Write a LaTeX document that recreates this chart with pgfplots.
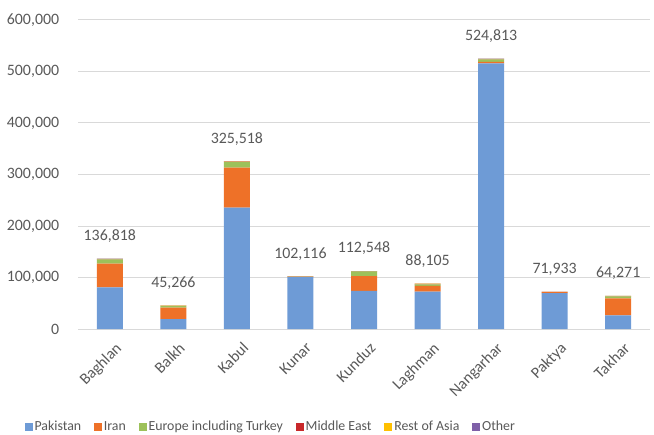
\documentclass[border=0pt]{standalone}
\usepackage{fontspec}
\setmainfont{Carlito}
\usepackage{pgfplots}
\pgfplotsset{compat=1.18}
\definecolor{cPak}{HTML}{6E9BD6}
\definecolor{cIran}{HTML}{EE7128}
\definecolor{cEur}{HTML}{9DC15A}
\definecolor{cME}{HTML}{C8282A}
\definecolor{cRA}{HTML}{FFC000}
\definecolor{cOth}{HTML}{7F60A8}
\definecolor{txt}{HTML}{595959}
\definecolor{gridc}{HTML}{D9D9D9}
\begin{document}
\fontsize{11.9}{14}\selectfont
\begin{tikzpicture}
\begin{axis}[
  ybar stacked,
  scale only axis,
  width=429pt, height=231.75pt,
  bar width=19.5pt,
  xmin=-0.5, xmax=8.5,
  ymin=0, ymax=600000,
  ytick={0,100000,200000,300000,400000,500000,600000},
  yticklabels={0,{100,000},{200,000},{300,000},{400,000},{500,000},{600,000}},
  xtick={0,...,8},
  xticklabels={Baghlan,Balkh,Kabul,Kunar,Kunduz,Laghman,Nangarhar,Paktya,Takhar},
  x tick label style={rotate=45, anchor=north east, xshift=0pt, yshift=-5pt},
  scaled y ticks=false,
  ymajorgrids, xmajorgrids=false,
  grid style={draw=gridc, line width=0.75pt},
  axis x line*=bottom,
  axis y line*=left,
  x axis line style={draw=gridc, line width=0.75pt, -},
  y axis line style={draw=none},
  tick style={draw=none},
  ticklabel style={font=\fontsize{11.9}{14}\selectfont, text=txt},
  yticklabel style={xshift=-10pt},
  legend style={at={(0.337,-0.317)}, anchor=center, draw=none, legend columns=-1,
    font=\fontsize{10.4}{12}\selectfont, text=txt,
    nodes={inner sep=1.5pt},
    /tikz/every even column/.append style={column sep=8pt}},
  legend image code/.code={\fill[#1] (0pt,-3pt) rectangle (6pt,3pt);},
  every axis plot/.append style={draw=none},
]
\addplot[fill=cPak] coordinates {(0,81000) (1,19400) (2,235500) (3,100500) (4,73800) (5,72400) (6,516000) (7,69900) (8,26600)};
\addlegendentry{Pakistan}
\addplot[fill=cIran] coordinates {(0,45800) (1,22000) (2,77700) (3,900) (4,29100) (5,11100) (6,2500) (7,1500) (8,33000)};
\addlegendentry{Iran}
\addplot[fill=cEur] coordinates {(0,8500) (1,3500) (2,11100) (3,400) (4,9200) (5,3000) (6,5000) (7,300) (8,3900)};
\addlegendentry{Europe including Turkey}
\addplot[fill=cME] coordinates {(0,600) (1,200) (2,600) (3,150) (4,200) (5,900) (6,700) (7,150) (8,400)};
\addlegendentry{Middle East}
\addplot[fill=cRA] coordinates {(0,500) (1,100) (2,400) (3,100) (4,150) (5,500) (6,400) (7,50) (8,250)};
\addlegendentry{Rest of Asia}
\addplot[fill=cOth, point meta=explicit symbolic,
  nodes near coords, every node near coord/.append style={anchor=south, inner sep=0pt, yshift=12pt, text=txt, font=\fontsize{11.9}{14}\selectfont}]
  coordinates {(0,418)[136,818] (1,66)[45,266] (2,218)[325,518] (3,66)[102,116] (4,98)[112,548] (5,205)[88,105] (6,213)[524,813] (7,33)[71,933] (8,121)[64,271]};
\addlegendentry{Other}
\end{axis}
\pgfresetboundingbox
\path ([xshift=-58.5pt,yshift=-78.75pt]current axis.south west) rectangle ([xshift=3pt,yshift=15pt]current axis.north east);
\end{tikzpicture}
\end{document}
